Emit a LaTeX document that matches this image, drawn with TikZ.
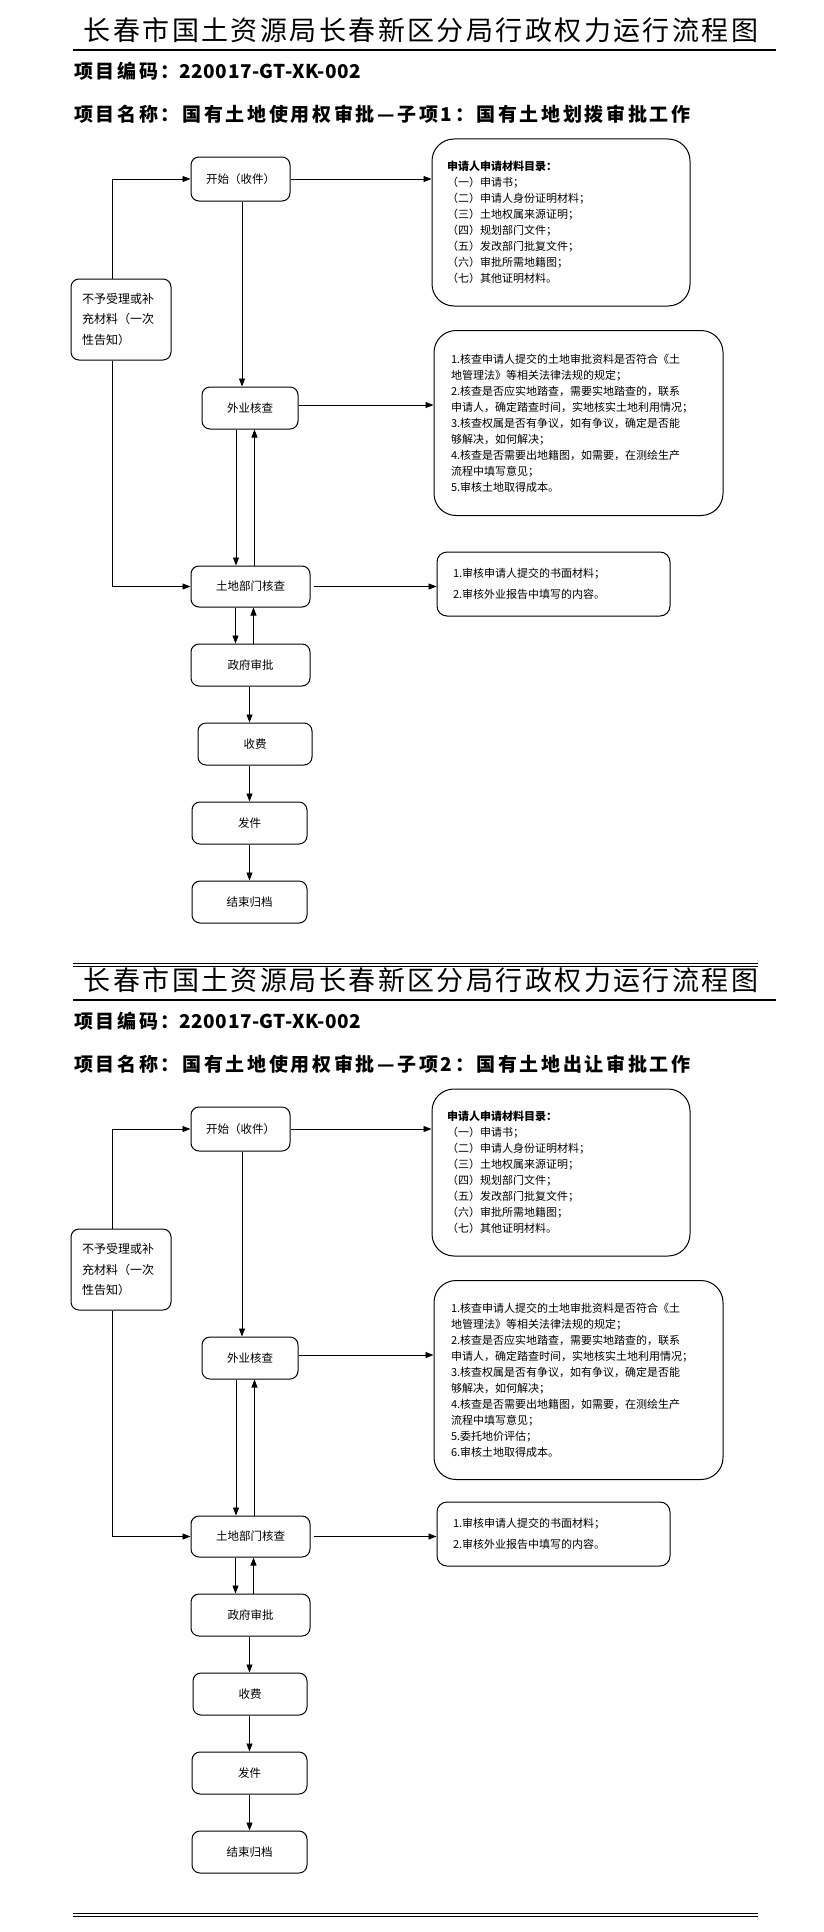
\documentclass[tikz,border=0pt]{standalone}
\usepackage{fontspec}
\setmainfont{Noto Sans CJK SC}
\newfontfamily\titlefont[LetterSpace=9]{Noto Sans CJK SC}
\newfontfamily\headfont[LetterSpace=14]{Noto Sans CJK SC}
\newfontfamily\headlatin[LetterSpace=2.5]{Noto Sans CJK SC}
\usetikzlibrary{arrows.meta}

% common review items of the field check box
\newcommand{\fielditems}{%
  1.核查申请人提交的土地审批资料是否符合《土\\
  地管理法》等相关法律法规的规定；\\
  2.核查是否应实地踏查，需要实地踏查的，联系\\
  申请人，确定踏查时间，实地核实土地利用情况；\\
  3.核查权属是否有争议，如有争议，确定是否能\\
  够解决，如何解决；\\
  4.核查是否需要出地籍图，如需要，在测绘生产\\
  流程中填写意见；}

% one flow chart page: #1 prefix, #2 y offset, #3 sub item,
% #4 last field items, #5 height of field box, #6 x of fee box
\newcommand{\flowpanel}[6]{%
  \begin{scope}[yshift=-#2pt]
    \node[pagetitle] (#1title) at (421,30)
      {长春市国土资源局长春新区分局行政权力运行流程图};
    \draw[rule] (73,50) -- (776,50);
    \node[pagehead] (#1code) at (74,71)
      {\textbf{项目编码：{\headlatin 220017-GT-XK-002}}};
    \node[pagehead] (#1name) at (74,114)
      {\textbf{项目名称：国有土地使用权审批—子项#3}};

    \node[flow, minimum width=99pt,  minimum height=44pt] (#1start) at (240.5,179) {开始（收件）};
    \node[flow, minimum width=96pt,  minimum height=42pt] (#1field) at (250,408)   {外业核查};
    \node[flow, minimum width=119pt, minimum height=41pt] (#1land)  at (250.5,586.5) {土地部门核查};
    \node[flow, minimum width=119pt, minimum height=42pt] (#1gov)   at (250.5,665) {政府审批};
    \node[flow, minimum width=114pt, minimum height=42pt] (#1fee)   at (#6,744)    {收费};
    \node[flow, minimum width=115pt, minimum height=42pt] (#1send)  at (249.5,823) {发件};
    \node[flow, minimum width=115pt, minimum height=42pt] (#1end)   at (249.5,902) {结束归档};
    \node[flow, minimum width=100pt, minimum height=81pt, text width=78pt, align=left,
          font=\fontsize{12}{20.5}\selectfont] (#1reject) at (121,319.5)
      {不予受理或补\\充材料（一次\\性告知）};

    \node[note, text width=228pt, inner xsep=15pt, minimum height=167pt] (#1docs) at (561,222.5)
      {\textbf{申请人申请材料目录：}\\
       （一）申请书；\\
       （二）申请人身份证明材料；\\
       （三）土地权属来源证明；\\
       （四）规划部门文件；\\
       （五）发改部门批复文件；\\
       （六）审批所需地籍图；\\
       （七）其他证明材料。};
    \node[note, text width=255pt, inner xsep=17pt, minimum height=#5pt, anchor=north]
      (#1items) at (578.5,330) {\fielditems\\#4};
    \node[note, rounded corners=10pt, text width=201pt, inner xsep=16pt, minimum height=64pt,
          font=\fontsize{11}{21}\selectfont] (#1land items) at (553.5,584)
      {1.审核申请人提交的书面材料；\\2.审核外业报告中填写的内容。};

    \draw[arr] ([xshift=-9pt]#1reject.north) |- (#1start.west);
    \draw[arr] ([xshift=-9pt]#1reject.south) |- (#1land.west);
    \draw[arr] (#1start.east) -- (#1start.east -| #1docs.west);
    \draw[arr] ([xshift=1.5pt]#1start.south) -- ([xshift=1.5pt]#1start.south |- #1field.north);
    \draw[arr] ([yshift=3pt]#1field.east) -- ([yshift=3pt]#1field.east -| #1items.west);
    \draw[arr] ([xshift=-14pt]#1field.south) -- ([xshift=-14pt]#1field.south |- #1land.north);
    \draw[arr] ([xshift=4pt]#1land.north) -- ([xshift=4pt]#1land.north |- #1field.south);
    \draw[arr] ([xshift=3pt]#1land.east) -- (#1land.east -| #1land items.west);
    \draw[arr] ([xshift=-15pt]#1land.south) -- ([xshift=-15pt]#1land.south |- #1gov.north);
    \draw[arr] ([xshift=3pt]#1gov.north) -- ([xshift=3pt]#1gov.north |- #1land.south);
    \draw[arr] ([xshift=-1pt]#1gov.south) -- ([xshift=-1pt]#1gov.south |- #1fee.north);
    \draw[arr] (#1send.north |- #1fee.south) -- (#1send.north);
    \draw[arr] (#1send.south) -- (#1end.north);
  \end{scope}}

\begin{document}
\begin{tikzpicture}[x=1pt, y=-1pt,
    flow/.style={draw, rounded corners=8pt, line width=1pt, align=center,
                 inner sep=0pt, font=\fontsize{11.5}{14}\selectfont},
    note/.style={draw, rounded corners=22pt, line width=1pt, align=left,
                 inner ysep=0pt, font=\fontsize{11}{16}\selectfont},
    arr/.style={-{Triangle[length=8pt, width=6pt]}, line width=0.9pt},
    rule/.style={line width=1.2pt},
    pagetitle/.style={inner sep=0pt, font=\titlefont\fontsize{27}{30}\selectfont},
    pagehead/.style={anchor=west, inner sep=0pt, font=\headfont\fontsize{19}{22}\selectfont}]
    \useasboundingbox (0,0) rectangle (823,1932);

    \flowpanel{a}{0}{1：国有土地划拨审批工作}{5.审核土地取得成本。}{185}{255}
    \flowpanel{b}{950}{2：国有土地出让审批工作}{5.委托地价评估；\\6.审核土地取得成本。}{199}{250}

    % page rules
    \draw[line width=1.3pt] (73,963.5) -- (758,963.5);
    \draw[line width=0.9pt] (73,966.5) -- (758,966.5);
    \draw[line width=1.3pt] (73,1913.5) -- (758,1913.5);
    \draw[line width=0.9pt] (73,1916.5) -- (758,1916.5);
\end{tikzpicture}
\end{document}
